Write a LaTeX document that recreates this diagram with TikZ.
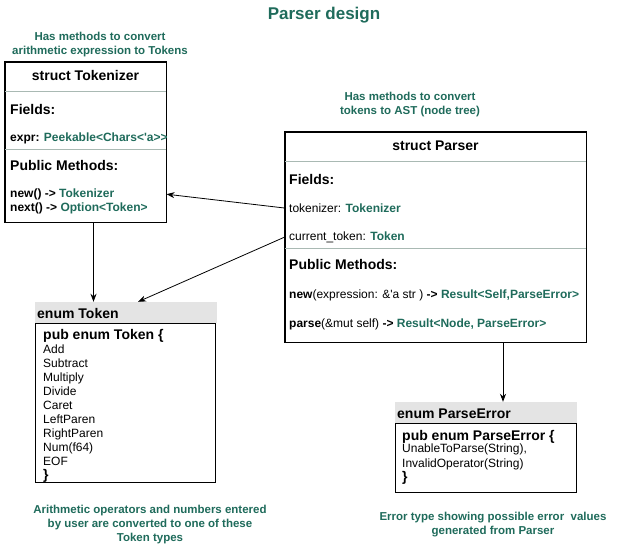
\documentclass[tikz,border=0pt]{standalone}
\usepackage{fontspec}
\setmainfont{Liberation Sans}
\usetikzlibrary{arrows.meta,positioning}

\definecolor{rustgreen}{HTML}{1F6B5B}
\definecolor{divgray}{HTML}{A9B9B3}
\definecolor{headgray}{HTML}{E4E4E4}

\newcommand\fbody{\fontsize{12}{14}\selectfont}
\newcommand\fhead{\fontsize{14}{16}\selectfont\bfseries}
\newcommand\fnote{\fontsize{11.5}{14}\selectfont\bfseries\color{rustgreen}}
\newcommand\ty[1]{\textcolor{rustgreen}{\textbf{#1}}}

\begin{document}
\begin{tikzpicture}[x=1pt,y=-1pt,
  every node/.style={inner sep=0},
  umlbox/.style={draw,line width=1pt},
  headband/.style={fill=headgray},
  divider/.style={draw=divgray,line width=0.8pt},
  arrow/.style={draw,line width=0.8pt,-{Stealth[length=8pt,width=6pt]}},
  txt/.style={anchor=base west,font=\fbody},
  sec/.style={anchor=base west,font=\fhead},
  note/.style={anchor=north,align=center,font=\fnote}]

\useasboundingbox (0,0) rectangle (621,549);

% Title
\node[anchor=base,font=\fontsize{17}{20}\selectfont\bfseries\color{rustgreen}] (title) at (324,19) {Parser design};

% struct Tokenizer
\node[note] (tkNote) at (100,31.5) {Has methods to convert\\arithmetic expression to Tokens};
\node[umlbox,minimum width=161pt,minimum height=160pt] (tkBox) at (85.5,142) {};
\draw[divider] ([yshift=-30pt]tkBox.north west) -- ([yshift=-30pt]tkBox.north east);
\draw[divider] ([yshift=-88pt]tkBox.north west) -- ([yshift=-88pt]tkBox.north east);
\draw[line width=1pt] (tkBox.north west) rectangle (tkBox.south east);
\node[anchor=base,font=\fhead] (tkTitle) at (85.5,80) {struct Tokenizer};
\node[sec] (tkFields) at (10,114) {Fields:};
\node[txt] (tkExpr) at (10,141.3) {\textbf{expr:} \ty{Peekable<Chars<\textquotesingle a>{}>}};
\node[sec] (tkMethods) at (10,170) {Public Methods:};
\node[txt] (tkNew) at (10,197.3) {\textbf{new() ->} \ty{Tokenizer}};
\node[txt] (tkNext) at (10,211.3) {\textbf{next() ->} \ty{Option<Token>}};

% struct Parser
\node[note] (psNote) at (410,91.5) {Has methods to convert\\tokens to AST (node tree)};
\node[umlbox,minimum width=301pt,minimum height=210pt] (psBox) at (435.5,237) {};
\draw[divider] ([yshift=-30pt]psBox.north west) -- ([yshift=-30pt]psBox.north east);
\draw[divider] ([yshift=-117pt]psBox.north west) -- ([yshift=-117pt]psBox.north east);
\draw[line width=1pt] (psBox.north west) rectangle (psBox.south east);
\node[anchor=base,font=\fhead] (psTitle) at (435.5,150) {struct Parser};
\node[sec] (psFields) at (289,184) {Fields:};
\node[txt] (psTok) at (289,212.3) {tokenizer: \ty{Tokenizer}};
\node[txt] (psCur) at (289,240.3) {current\_token: \ty{Token}};
\node[sec] (psMethods) at (289,269) {Public Methods:};
\node[txt] (psNew) at (289,298.3) {\textbf{new}(expression: \&\textquotesingle a str ) \textbf{->} \ty{Result<Self,ParseError>}};
\node[txt] (psParse) at (289,327.3) {\textbf{parse}(\&mut self) \textbf{->} \ty{Result<Node, ParseError>}};

% enum Token
\node[headband,minimum width=182pt,minimum height=21pt] (tokHead) at (126,312.5) {};
\node[sec] (tokTitle) at (37,318) {enum Token};
\node[umlbox,minimum width=180pt,minimum height=159pt] (tokBox) at (125,402.5) {};
\node[sec] (tokDecl) at (43,339) {pub enum Token \{};
\foreach \tokname [count=\i] in {Add,Subtract,Multiply,Divide,Caret,LeftParen,RightParen,Num(f64),EOF}
  \node[txt] (tok\i) at (43,339.3+14*\i) {\tokname};
\node[sec] (tokEnd) at (43,479.5) {\}};
\node[note] (tokNote) at (150,504.5) {Arithmetic operators and numbers entered\\by user are converted to one of these\\Token types};

% enum ParseError
\node[headband,minimum width=182pt,minimum height=21pt] (peHead) at (486,412.5) {};
\node[sec] (peTitle) at (397,418) {enum ParseError};
\node[umlbox,minimum width=181pt,minimum height=69pt] (peBox) at (485.5,457.5) {};
\node[sec] (peDecl) at (402,440) {pub enum ParseError \{};
\node[txt] (peUnable) at (402,452.3) {UnableToParse(String),};
\node[txt] (peInvalid) at (402,467.3) {InvalidOperator(String)};
\node[sec] (peEnd) at (402,481) {\}};
\node[note] (peNote) at (493,511.5) {Error type showing possible error\ \ values\\generated from Parser};

% connectors
\draw[arrow] ([xshift=8pt]tkBox.south) -- ([xshift=8pt]tkBox.south |- tokHead.north);
\draw[arrow] (psBox.west |- psTok) -- (tkBox.east |- tkNew);
\draw[arrow] (psBox.west |- psCur) -- ([xshift=12pt]tokHead.north);
\draw[arrow] ([xshift=67.5pt]psBox.south) -- ([xshift=67.5pt]psBox.south |- peHead.north);

\end{tikzpicture}
\end{document}
